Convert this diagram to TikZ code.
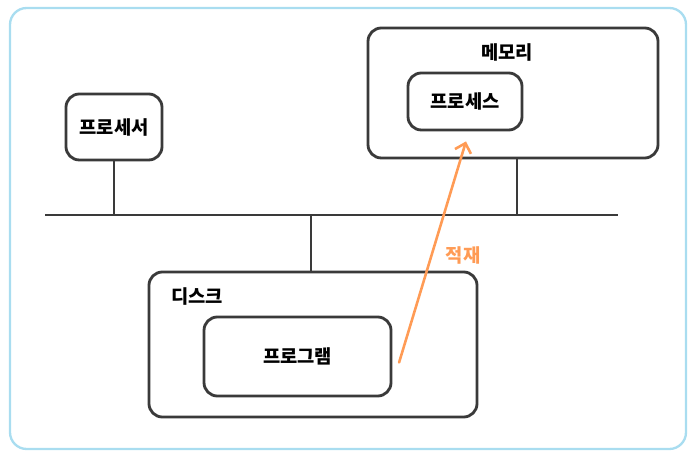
\documentclass[tikz,border=0pt]{standalone}
\usepackage{fontspec}
\setmainfont{Noto Sans CJK KR}
\usepackage{tikz}
\usetikzlibrary{arrows.meta,positioning}
\definecolor{framblue}{HTML}{A9DDF0}
\definecolor{loadorange}{HTML}{FF9B55}
\definecolor{boxgray}{HTML}{3A3A3A}

\begin{document}
\begin{tikzpicture}[
  box/.style={draw=boxgray, line width=2.4pt, rounded corners=0.4cm, rectangle, font=\fontsize{16}{18}\selectfont\bfseries, align=center},
  lbl/.style={font=\fontsize{16}{18}\selectfont\bfseries},
  arrow/.style={-{Straight Barb[length=2.6mm,width=5mm]}, line width=2.2pt, loadorange, line cap=round}
]
\useasboundingbox (0,0) rectangle (20.88,13.77);
% Outer frame
\draw[framblue, line width=2pt, rounded corners=0.5cm] (0.3,0.3) rectangle (20.58,13.53);

% Processor
\node[box, minimum width=2.88cm, minimum height=1.98cm] (cpu) at (3.42,9.96) {프로세서};

% Memory with process
\node[box, minimum width=8.7cm, minimum height=3.9cm] (mem) at (15.39,10.98) {};
\node[lbl] (memlbl) at (15.21,12.21) {메모리};
\node[box, minimum width=3.42cm, minimum height=1.71cm] (prc) at (13.95,10.725) {프로세스};

% Bus
\coordinate (busL) at (1.35,7.32);
\coordinate (busR) at (18.54,7.32);
\draw[boxgray, line width=2.4pt] (busL) -- (busR);

% Disk with program
\node[box, minimum width=9.84cm, minimum height=4.35cm] (disk) at (9.39,3.435) {};
\node[lbl] (disklbl) at (5.91,4.86) {디스크};
\node[box, minimum width=5.61cm, minimum height=2.37cm] (prog) at (8.925,3.075) {프로그램};

% Bus taps
\draw[boxgray, line width=2.4pt] (cpu.south) -- (cpu.south |- busL);
\draw[boxgray, line width=2.4pt] ([xshift=0.12cm]mem.south) -- ([xshift=0.12cm]mem.south |- busL);
\draw[boxgray, line width=2.4pt] ([xshift=-0.06cm]disk.north) -- ([xshift=-0.06cm]disk.north |- busL);

% Loading arrow
\draw[arrow] ([xshift=0.2cm,yshift=-0.18cm]prog.east) -- ([xshift=0.03cm,yshift=-0.3cm]prc.south);
\node[lbl, text=loadorange] (load) at (13.89,6.12) {적재};

\end{tikzpicture}
\end{document}
